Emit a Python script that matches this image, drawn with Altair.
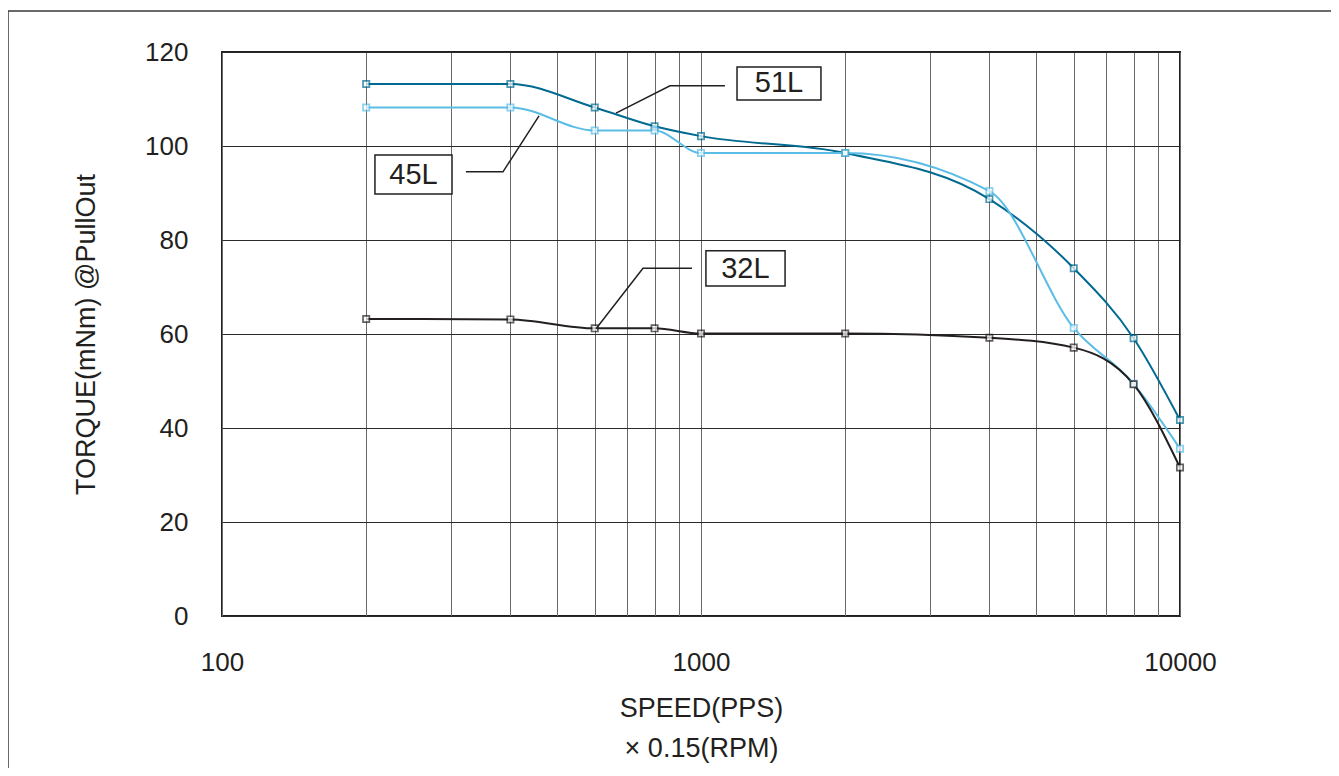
import altair as alt
import pandas as pd

# ---- data ----
speeds = [200, 400, 600, 800, 1000, 2000, 4000, 6000, 8000, 10000]
torque_51L = [113.2, 113.2, 108.2, 104.2, 102.1, 98.5, 88.7, 74.0, 59.1, 41.7]
torque_45L = [108.2, 108.2, 103.3, 103.3, 98.5, 98.5, 90.4, 61.3, 49.4, 35.6]
torque_32L = [63.2, 63.1, 61.2, 61.2, 60.1, 60.1, 59.2, 57.1, 49.3, 31.6]
series_names = ["51L", "45L", "32L"]
series_colors = ["#006a90", "#5bbde6", "#231f20"]

x_grid = [100, 200, 300, 400, 500, 600, 700, 800, 900,
          1000, 2000, 3000, 4000, 5000, 6000, 7000, 8000, 9000, 10000]
y_ticks = [0, 20, 40, 60, 80, 100, 120]

# label boxes (data coordinates): name, x0, x1, y0, y1, text x, text y
label_names = ["51L", "45L", "32L"]
label_x0 = [1189, 208.6, 1024]
label_x1 = [1780, 302.1, 1498]
label_y0 = [109.8, 89.8, 70.2]
label_y1 = [116.8, 98.1, 77.7]
label_tx = [1455, 251, 1238]
label_ty = [113.3, 93.9, 73.9]

# leader lines (data coordinates)
leader_label = ["51L", "51L", "51L", "45L", "45L", "45L", "32L", "32L", "32L"]
leader_order = [0, 1, 2, 0, 1, 2, 0, 1, 2]
leader_x = [664.5, 861.5, 1122, 459, 386, 323, 603.7, 756.6, 957.6]
leader_y = [107.0, 112.8, 112.8, 106.4, 94.5, 94.5, 61.1, 74.0, 74.0]

rows = []
for name, vals in zip(series_names, [torque_51L, torque_45L, torque_32L]):
    for s, t in zip(speeds, vals):
        rows.append({"series": name, "speed": s, "torque": t})
df = pd.DataFrame(rows)

labels_df = pd.DataFrame({"name": label_names, "x0": label_x0, "x1": label_x1,
                          "y0": label_y0, "y1": label_y1,
                          "tx": label_tx, "ty": label_ty})
leader_df = pd.DataFrame({"name": leader_label, "order": leader_order,
                          "x": leader_x, "y": leader_y})

FONT = "Liberation Sans, Noto Sans CJK JP"

xscale = alt.Scale(type="log", domain=[100, 10000], nice=False)
yscale = alt.Scale(domain=[0, 120], nice=False)
color = alt.Color("series:N", scale=alt.Scale(domain=series_names, range=series_colors), legend=None)

x_enc = alt.X("speed:Q", scale=xscale,
              axis=alt.Axis(values=x_grid, format="d",
                            labelExpr="(datum.value == 100 || datum.value == 1000 || datum.value == 10000) ? datum.label : ''",
                            title=["SPEED(PPS)", "× 0.15(RPM)"],
                            grid=True, gridColor="#6a6a6a", gridWidth=1,
                            ticks=False, domain=False,
                            labelFontSize=26, labelPadding=33, labelColor="#231f20",
                            labelFont=FONT, labelOverlap=False, labelFlush=False,
                            titleFont=FONT, titleFontSize=27, titleFontWeight="normal",
                            titleColor="#231f20", titlePadding=20, titleLineHeight=40))
y_enc = alt.Y("torque:Q", scale=yscale,
              axis=alt.Axis(values=y_ticks, title="TORQUE(mNm) @PullOut",
                            grid=True, gridColor="#2a2a2a", gridWidth=1,
                            ticks=False, domain=False,
                            labelFontSize=26, labelPadding=34, labelColor="#231f20",
                            labelFont=FONT,
                            titleFont=FONT, titleFontSize=27, titleFontWeight="normal",
                            titleColor="#231f20", titlePadding=44))

frame = alt.Chart(pd.DataFrame({"a": [0]})).mark_rect(
    fill=None, stroke="#3a3a3a", strokeWidth=1.5, clip=False
).encode(x=alt.value(-214), x2=alt.value(1113), y=alt.value(-41), y2=alt.value(740))

lines = alt.Chart(df).mark_line(interpolate="monotone", strokeWidth=2).encode(
    x=x_enc, y=y_enc, color=color, detail="series:N")

points = alt.Chart(df).mark_point(shape="square", size=40, filled=True, fill="white",
                                  strokeWidth=1.7).encode(
    x="speed:Q", y="torque:Q", stroke=alt.Stroke("series:N", scale=alt.Scale(domain=series_names, range=series_colors), legend=None))

leaders = alt.Chart(leader_df).mark_line(color="#231f20", strokeWidth=1.5).encode(
    x="x:Q", y="y:Q", detail="name:N", order="order:Q")

boxes = alt.Chart(labels_df).mark_rect(fill="white", stroke="#231f20", strokeWidth=1.5).encode(
    x="x0:Q", x2="x1:Q", y="y0:Q", y2="y1:Q")

texts = alt.Chart(labels_df).mark_text(fontSize=29, font=FONT, color="#231f20",
                                       align="center", baseline="middle").encode(
    x="tx:Q", y="ty:Q", text="name:N")

chart = alt.layer(frame, lines, points, leaders, boxes, texts).properties(
    width=958, height=564,
    padding={"left": 214, "top": 44, "right": 151, "bottom": 152},
    autosize=alt.AutoSizeParams(type="none"),
    background="white",
).configure_view(stroke="#231f20", strokeWidth=2)

chart.save("out.html", embed_options={"renderer": "svg", "actions": False})
